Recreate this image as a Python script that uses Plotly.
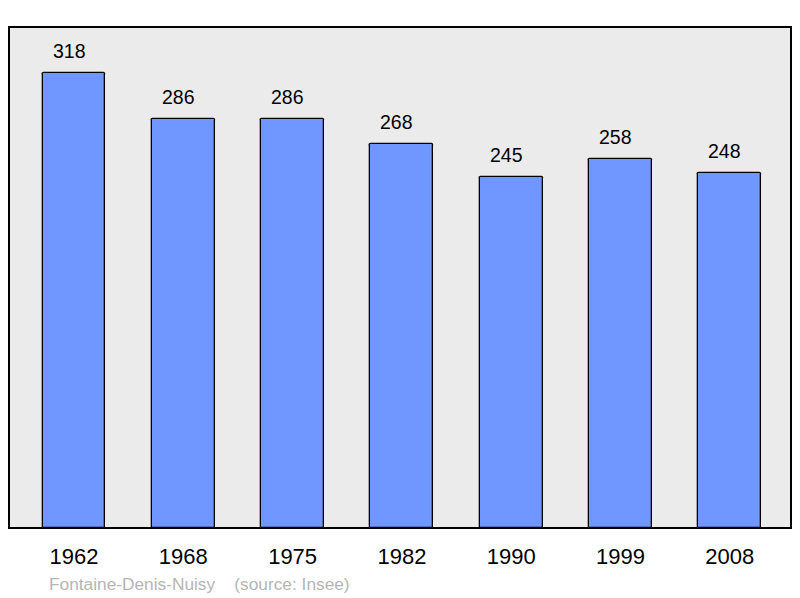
import plotly.graph_objects as go

years = ["1962", "1968", "1975", "1982", "1990", "1999", "2008"]
population = [318, 286, 286, 268, 245, 258, 248]

fig = go.Figure()
fig.add_trace(go.Bar(
    x=years, y=population, width=0.575,
    marker=dict(color="#7096ff", line=dict(color="#000000", width=1.3), cornerradius=2),
    hoverinfo="skip",
))

for i, v in enumerate(population):
    fig.add_annotation(x=i, y=v, text=str(v), showarrow=False, yanchor="bottom",
                       yshift=9, xshift=-5,
                       font=dict(family="Liberation Sans, Arial", size=19.5, color="#000"))

fig.add_shape(type="rect", xref="x domain", yref="y domain", x0=0, x1=1, y0=0, y1=1,
              line=dict(color="#000000", width=2), layer="above")

fig.add_annotation(xref="paper", yref="paper", x=38/782, y=-56/501, xanchor="left", yanchor="middle",
                   text="Fontaine-Denis-Nuisy &nbsp;&nbsp;&nbsp;(source: Insee)", showarrow=False,
                   font=dict(family="Liberation Sans, Arial", size=17.3, color="#b5b5b5"))

fig.update_layout(
    width=800, height=598,
    margin=dict(l=9, r=9, t=27, b=70, autoexpand=False),
    paper_bgcolor="#ffffff", plot_bgcolor="#ebebeb",
    showlegend=False, bargap=0,
    xaxis=dict(type="category", range=[-0.595, 6.56], showgrid=False, zeroline=False, ticks="outside",
               ticklen=9, tickcolor="rgba(0,0,0,0)", showline=False,
               tickfont=dict(family="Liberation Sans, Arial", size=22, color="#000")),
    yaxis=dict(range=[0, 350], showgrid=False, zeroline=False, showticklabels=False, showline=False),
)

fig.write_html("out.html", config={"displayModeBar": False},
               post_script="document.body.style.margin='0';")
